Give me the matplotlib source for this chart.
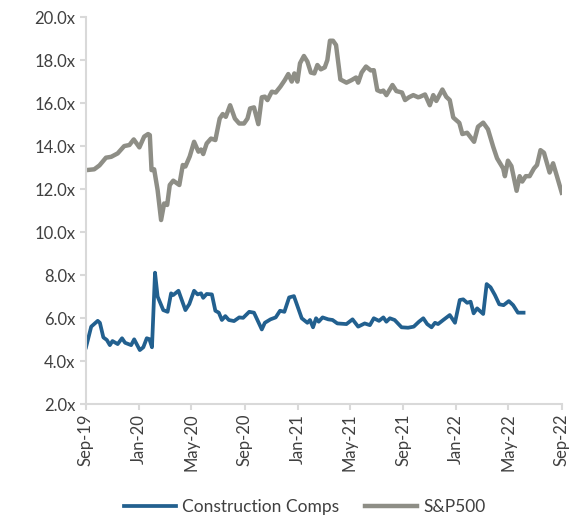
import matplotlib
matplotlib.use("Agg")
import matplotlib.pyplot as plt
import matplotlib.dates as mdates
import pandas as pd
from matplotlib.ticker import FuncFormatter, MultipleLocator

# Fechas y valores (múltiplos P/E)
fechas_sp = [
    "2019-09-01", "2019-09-20", "2019-10-02", "2019-10-17", "2019-10-29", "2019-11-13",
    "2019-11-28", "2019-12-10", "2019-12-20", "2020-01-02", "2020-01-13", "2020-01-22",
    "2020-01-26", "2020-01-30", "2020-02-05", "2020-02-13", "2020-02-21", "2020-02-28",
    "2020-03-06", "2020-03-12", "2020-03-20", "2020-04-03", "2020-04-11", "2020-04-17",
    "2020-04-27", "2020-05-07", "2020-05-17", "2020-05-23", "2020-05-28", "2020-06-05",
    "2020-06-15", "2020-06-25", "2020-07-05", "2020-07-12", "2020-07-19", "2020-07-29",
    "2020-08-09", "2020-08-19", "2020-08-30", "2020-09-07", "2020-09-13", "2020-09-22",
    "2020-10-02", "2020-10-10", "2020-10-17", "2020-10-23", "2020-11-02", "2020-11-11",
    "2020-11-22", "2020-12-02", "2020-12-10", "2020-12-18", "2020-12-24", "2020-12-31",
    "2021-01-06", "2021-01-15", "2021-01-23", "2021-01-31", "2021-02-08", "2021-02-15",
    "2021-02-23", "2021-03-04", "2021-03-10", "2021-03-16", "2021-03-23", "2021-03-30",
    "2021-04-09", "2021-04-23", "2021-05-05", "2021-05-15", "2021-05-20", "2021-05-28",
    "2021-06-07", "2021-06-18", "2021-06-25", "2021-07-03", "2021-07-11", "2021-07-17",
    "2021-07-24", "2021-08-07", "2021-08-16", "2021-08-29", "2021-09-05", "2021-09-14",
    "2021-09-24", "2021-10-05", "2021-10-09", "2021-10-21", "2021-11-01", "2021-11-09",
    "2021-11-16", "2021-11-30", "2021-12-09", "2021-12-17", "2021-12-25", "2022-01-08",
    "2022-01-15", "2022-01-26", "2022-02-11", "2022-02-20", "2022-03-04", "2022-03-15",
    "2022-03-27", "2022-04-05", "2022-04-19", "2022-04-23", "2022-04-30", "2022-05-08",
    "2022-05-20", "2022-05-27", "2022-06-02", "2022-06-10", "2022-06-19", "2022-06-29",
    "2022-07-06", "2022-07-14", "2022-07-22", "2022-08-04", "2022-08-12", "2022-08-21",
    "2022-09-01",
]
valores_sp = [
    12.88, 12.92, 13.10, 13.46, 13.50, 13.66,
    14.00, 14.05, 14.31, 13.94, 14.44, 14.56,
    14.51, 12.88, 12.92, 11.95, 10.56, 11.33,
    11.26, 12.19, 12.39, 12.19, 13.12, 13.05,
    13.52, 14.20, 13.74, 13.84, 13.63, 14.12,
    14.35, 14.28, 15.28, 15.49, 15.36, 15.90,
    15.28, 15.05, 15.05, 15.28, 15.75, 15.80,
    15.02, 16.27, 16.30, 16.14, 16.53, 16.49,
    16.77, 17.07, 17.35, 17.00, 17.38, 17.00,
    17.85, 18.19, 17.93, 17.42, 17.38, 17.77,
    17.57, 17.66, 18.00, 18.90, 18.90, 18.70,
    17.10, 16.95, 17.07, 17.19, 16.95, 17.42,
    17.70, 17.52, 17.53, 16.60, 16.53, 16.58,
    16.37, 16.84, 16.56, 16.49, 16.14, 16.27,
    16.37, 16.27, 16.29, 16.40, 15.90, 16.37,
    16.10, 16.63, 16.29, 16.14, 15.33, 15.08,
    14.56, 14.62, 14.20, 14.90, 15.09, 14.78,
    13.97, 13.43, 12.96, 12.60, 13.32, 13.07,
    11.92, 12.60, 12.35, 12.60, 12.60, 12.96,
    13.12, 13.81, 13.69, 12.77, 13.20, 12.59,
    11.83,
]

fechas_cc = [
    "2019-09-01", "2019-09-13", "2019-09-28", "2019-10-03", "2019-10-11", "2019-10-19",
    "2019-10-26", "2019-11-01", "2019-11-13", "2019-11-23", "2019-11-30", "2019-12-14",
    "2019-12-21", "2020-01-03", "2020-01-11", "2020-01-19", "2020-01-25", "2020-01-31",
    "2020-02-07", "2020-02-13", "2020-02-26", "2020-03-07", "2020-03-15", "2020-03-20",
    "2020-04-01", "2020-04-17", "2020-04-26", "2020-05-07", "2020-05-15", "2020-05-23",
    "2020-05-28", "2020-06-05", "2020-06-17", "2020-06-25", "2020-07-03", "2020-07-10",
    "2020-07-18", "2020-07-26", "2020-08-07", "2020-08-19", "2020-08-28", "2020-09-11",
    "2020-09-22", "2020-10-10", "2020-10-17", "2020-10-30", "2020-11-11", "2020-11-21",
    "2020-12-01", "2020-12-12", "2020-12-23", "2021-01-10", "2021-01-23", "2021-01-29",
    "2021-02-05", "2021-02-12", "2021-02-18", "2021-02-27", "2021-03-12", "2021-03-22",
    "2021-04-02", "2021-04-23", "2021-05-07", "2021-05-20", "2021-06-04", "2021-06-16",
    "2021-06-25", "2021-07-07", "2021-07-17", "2021-07-24", "2021-08-01", "2021-08-12",
    "2021-08-28", "2021-09-12", "2021-09-25", "2021-10-07", "2021-10-17", "2021-10-26",
    "2021-11-05", "2021-11-13", "2021-11-20", "2021-12-02", "2021-12-17", "2021-12-29",
    "2022-01-09", "2022-01-17", "2022-01-26", "2022-02-03", "2022-02-10", "2022-02-18",
    "2022-03-04", "2022-03-12", "2022-03-21", "2022-03-31", "2022-04-10", "2022-04-20",
    "2022-05-02", "2022-05-12", "2022-05-23", "2022-06-05",
]
valores_cc = [
    4.64, 5.60, 5.87, 5.78, 5.10, 4.98,
    4.74, 4.93, 4.79, 5.06, 4.85, 4.74,
    5.01, 4.51, 4.64, 5.06, 5.02, 4.64,
    8.11, 7.00, 6.37, 6.29, 7.15, 7.07,
    7.27, 6.37, 6.65, 7.27, 7.10, 7.15,
    6.94, 7.12, 7.10, 6.34, 6.25, 5.91,
    6.09, 5.91, 5.86, 6.03, 6.01, 6.29,
    6.25, 5.47, 5.78, 5.94, 6.03, 6.34,
    6.29, 6.96, 7.02, 5.99, 5.78, 5.91,
    5.57, 5.99, 5.83, 6.03, 5.94, 5.91,
    5.75, 5.72, 5.94, 5.60, 5.75, 5.67,
    5.99, 5.87, 6.03, 5.83, 5.99, 5.91,
    5.57, 5.55, 5.60, 5.83, 5.99, 5.72,
    5.57, 5.78, 5.72, 5.91, 6.14, 5.78,
    6.84, 6.87, 6.71, 6.76, 6.22, 6.45,
    6.19, 7.58, 7.43, 7.07, 6.64, 6.60,
    6.79, 6.60, 6.25, 6.25,
]

plt.rcParams['font.family'] = ['Lato', 'DejaVu Sans']
gris_texto = '#404040'
gris_eje = '#d9d9d9'

fig = plt.figure(figsize=(5.87, 5.18), dpi=100)
ax = fig.add_axes([0.1465, 0.22, 0.8105, 0.747])

ax.plot(pd.to_datetime(fechas_cc), valores_cc, color='#22608f', lw=2.7,
        label='Construction Comps', solid_joinstyle='round')
ax.plot(pd.to_datetime(fechas_sp), valores_sp, color='#8e8e86', lw=3.2,
        label='S&P500', solid_joinstyle='round')

ax.set_xlim(pd.Timestamp("2019-09-01"), pd.Timestamp("2022-09-01"))
ax.set_ylim(2, 20)
ax.yaxis.set_major_locator(MultipleLocator(2))
ax.yaxis.set_major_formatter(FuncFormatter(lambda v, p: f"{v:.1f}x"))
ax.xaxis.set_major_locator(mdates.MonthLocator(bymonth=[1, 5, 9]))
ax.xaxis.set_major_formatter(mdates.DateFormatter("%b-%y"))

for s in ['top', 'right']:
    ax.spines[s].set_visible(False)
for s in ['left', 'bottom']:
    ax.spines[s].set_color(gris_eje)
    ax.spines[s].set_linewidth(1.5)
ax.tick_params(axis='both', colors=gris_eje, labelcolor=gris_texto,
               labelsize=12, length=4, width=1.5)
ax.tick_params(axis='x', labelrotation=90, pad=3)

fig.legend(loc='center', bbox_to_anchor=(0.519, 0.021), ncol=2, frameon=False,
           fontsize=12.5, handlelength=3.0, handletextpad=0.35, columnspacing=1.5,
           labelcolor=gris_texto)

fig.savefig("out.png", dpi=100)
